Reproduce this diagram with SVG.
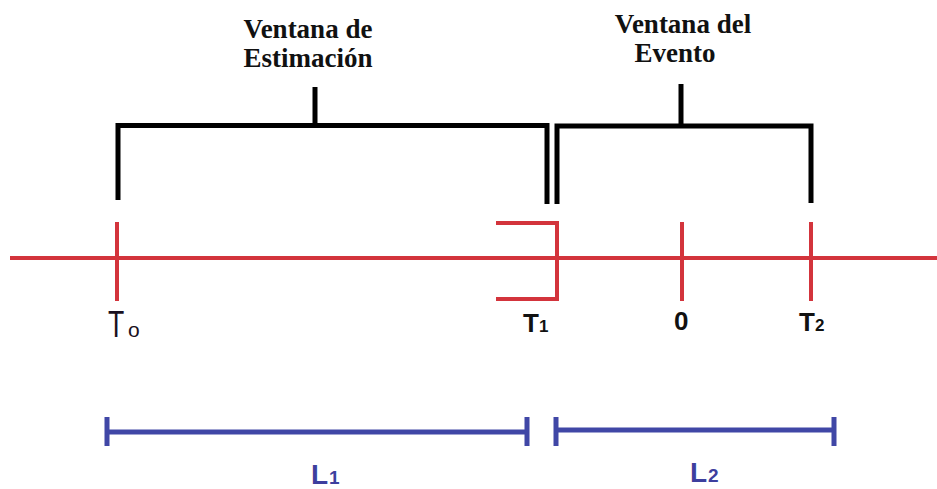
<svg xmlns="http://www.w3.org/2000/svg" width="937" height="489" viewBox="0 0 937 489">
<style>
.title{font-weight:bold;font-size:27px;fill:#111;text-anchor:middle}
.lab{font-family:"Liberation Sans",Arial,sans-serif;font-weight:bold;fill:#111}
.blk{fill:none;stroke:#000;stroke-width:5}
.red{fill:none;stroke:#d3343c;stroke-width:4}
.blue{fill:none;stroke:#4047a6;stroke-width:5}
.bl{font-family:"Liberation Sans",Arial,sans-serif;font-weight:bold;fill:#3d3f9e}
</style>
<rect width="937" height="489" fill="#fff"/>
<g id="axis">
<path class="red" d="M10,258 H937"/>
</g>
<g id="estimacion" font-family="'Liberation Serif', 'Times New Roman', 'DejaVu Serif', serif">
<text class="title" x="308" y="38">Ventana de</text>
<text class="title" x="308" y="67">Estimación</text>
</g>
<g id="evento" font-family="'Liberation Serif', 'Times New Roman', 'DejaVu Serif', serif">
<text class="title" x="683" y="33">Ventana del</text>
<text class="title" x="675" y="62">Evento</text>
</g>
<g id="t0">
<path class="red" d="M117,222 V301"/>
<text class="lab" style="font-weight:normal;fill:#1a1020" font-size="37" transform="translate(108,337) scale(0.72,1)">T</text>
<text class="lab" style="font-weight:normal;fill:#1a1020" font-size="21" x="128" y="337">o</text>
</g>
<g id="t1">
<path class="red" d="M496,223 H557 V299 H496"/>
<text class="lab" font-size="26" x="523" y="332">T</text>
<text class="lab" font-size="17" x="539" y="332">1</text>
</g>
<g id="zero">
<path class="red" d="M682,222 V301"/>
<text class="lab" font-size="26" x="674" y="330">0</text>
</g>
<g id="t2">
<path class="red" d="M811,222 V301"/>
<text class="lab" font-size="26" x="799" y="331">T</text>
<text class="lab" font-size="17" x="815" y="331">2</text>
</g>
<g id="connectors">
<path class="blk" d="M118,200 V125.5 H547 V204"/>
<path class="blk" d="M315,87 V125"/>
<path class="blk" d="M557,204 V126 H811 V203"/>
<path class="blk" d="M681,84 V126"/>
</g>
<g id="l1">
<path class="blue" d="M107,432 H527 M107,417 V446 M527,417 V446"/>
<text class="bl" font-size="28" x="311" y="484">L</text>
<text class="bl" font-size="19" x="329" y="484">1</text>
</g>
<g id="l2">
<path class="blue" d="M556,430 H834 M556,417 V446 M834,417 V446"/>
<text class="bl" font-size="28" x="690" y="482">L</text>
<text class="bl" font-size="19" x="708" y="482">2</text>
</g>
</svg>
